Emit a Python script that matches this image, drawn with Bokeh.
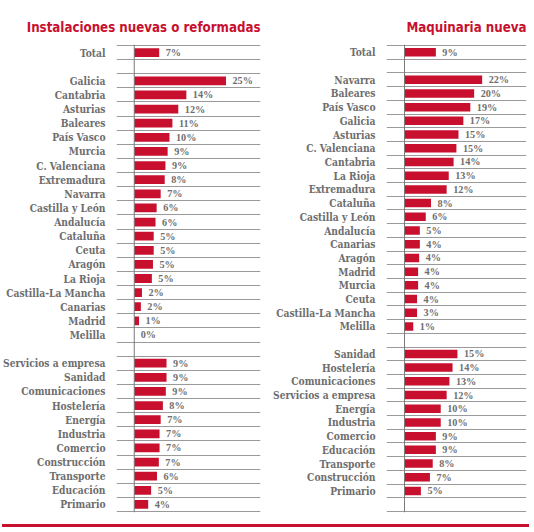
from bokeh.plotting import figure
from bokeh.models import FixedTicker, Range1d, Span, ColumnDataSource, LabelSet, Div
from bokeh.layouts import row, column
from bokeh.embed import file_html
from bokeh.resources import INLINE

# ---------------- data ----------------
title_left = "Instalaciones nuevas o reformadas"
title_right = "Maquinaria nueva"

total_left_pct = 7
total_left_bar = 6.8
regions_left = ["Galicia", "Cantabria", "Asturias", "Baleares", "País Vasco", "Murcia",
                "C. Valenciana", "Extremadura", "Navarra", "Castilla y León", "Andalucía",
                "Cataluña", "Ceuta", "Aragón", "La Rioja", "Castilla-La Mancha", "Canarias",
                "Madrid", "Melilla"]
regions_left_pct = [25, 14, 12, 11, 10, 9, 9, 8, 7, 6, 6, 5, 5, 5, 5, 2, 2, 1, 0]
regions_left_bar = [25.0, 14.2, 12.0, 10.4, 9.6, 9.1, 8.5, 8.3, 7.2, 6.1, 5.8, 5.3, 5.3,
                    5.1, 4.8, 2.1, 1.8, 1.3, 0.0]
sectors_left = ["Servicios a empresa", "Sanidad", "Comunicaciones", "Hostelería", "Energía",
                "Industria", "Comercio", "Construcción", "Transporte", "Educación", "Primario"]
sectors_left_pct = [9, 9, 9, 8, 7, 7, 7, 7, 6, 5, 4]
sectors_left_bar = [8.8, 8.8, 8.6, 7.8, 7.2, 6.9, 6.9, 6.7, 6.2, 4.6, 3.8]

total_right_pct = 9
total_right_bar = 9.0
regions_right = ["Navarra", "Baleares", "País Vasco", "Galicia", "Asturias", "C. Valenciana",
                 "Cantabria", "La Rioja", "Extremadura", "Cataluña", "Castilla y León",
                 "Andalucía", "Canarias", "Aragón", "Madrid", "Murcia", "Ceuta",
                 "Castilla-La Mancha", "Melilla"]
regions_right_pct = [22, 20, 19, 17, 15, 15, 14, 13, 12, 8, 6, 5, 4, 4, 4, 4, 4, 3, 1]
regions_right_bar = [22.3, 20.0, 18.9, 16.9, 15.5, 14.9, 14.1, 12.7, 12.1, 7.6, 6.1, 4.4,
                     4.4, 4.2, 3.9, 3.9, 3.6, 3.6, 2.5]
sectors_right = ["Sanidad", "Hostelería", "Comunicaciones", "Servicios a empresa", "Energía",
                 "Industria", "Comercio", "Educación", "Transporte", "Construcción", "Primario"]
sectors_right_pct = [15, 14, 13, 12, 10, 10, 9, 9, 8, 7, 5]
sectors_right_bar = [15.2, 13.8, 12.9, 12.1, 10.4, 10.4, 9.0, 9.0, 8.1, 7.3, 4.7]

# ---------------- style ----------------
RED = "#c8102e"
GREY_TXT = "#6e6e6e"
GRID = "#9a9a9a"
AXIS = "#7a7a7a"
LABEL_FONT = "DejaVu Serif Condensed"
TITLE_FONT = "DejaVu Sans Condensed"
FIG_H = 524


def panel(title, tot_pct, tot_bar, regs, regs_pct, regs_bar, secs, secs_pct, secs_bar,
          nrows, xstart, xend, width, bleft, bright):
    names = ["Total"] + regs + secs
    pcts = [tot_pct] + regs_pct + secs_pct
    bars = [tot_bar] + regs_bar + secs_bar
    ys = [0] + list(range(2, 2 + len(regs))) + list(range(3 + len(regs), 3 + len(regs) + len(secs)))
    pad = 0.07
    p = figure(width=width, height=FIG_H, output_backend="svg", toolbar_location=None,
               x_range=Range1d(xstart, xend),
               y_range=Range1d(nrows - 0.5 + pad, -0.5 - pad),
               min_border_left=bleft, min_border_right=bright,
               min_border_top=44, min_border_bottom=12)
    p.title.text = title
    p.title.align = "right"
    p.title.text_color = RED
    p.title.text_font = TITLE_FONT
    p.title.text_font_size = "13.2px"
    p.title.text_font_style = "bold"
    p.title.standoff = 20
    p.outline_line_color = None
    p.background_fill_color = "white"
    p.border_fill_color = "white"

    src = ColumnDataSource(dict(y=ys, bar=bars, txt=[f"{v}%" for v in pcts]))
    p.hbar(y="y", left=0, right="bar", height=0.62, source=src, fill_color=RED,
           line_color=None)
    p.add_layout(LabelSet(x="bar", y="y", text="txt", source=src, x_offset=6.5,
                          text_baseline="middle", text_align="left",
                          text_font=LABEL_FONT, text_font_style="bold",
                          text_font_size="10.2px", text_color=GREY_TXT))
    p.add_layout(Span(location=0, dimension="height", line_color=AXIS, line_width=1))

    p.xaxis.visible = False
    p.xgrid.visible = False
    p.ygrid.ticker = FixedTicker(ticks=[k - 0.5 for k in range(nrows + 1)])
    p.ygrid.grid_line_color = GRID
    p.ygrid.grid_line_width = 1

    ax = p.yaxis[0]
    ax.ticker = FixedTicker(ticks=ys)
    ax.major_label_overrides = {y: n for y, n in zip(ys, names)}
    ax.axis_line_color = None
    ax.major_tick_line_color = None
    ax.minor_tick_line_color = None
    ax.major_tick_out = 0
    ax.major_tick_in = 0
    ax.major_label_standoff = 11
    ax.major_label_text_font = LABEL_FONT
    ax.major_label_text_font_style = "bold"
    ax.major_label_text_font_size = "10.2px"
    ax.major_label_text_color = GREY_TXT
    return p


left = panel(title_left, total_left_pct, total_left_bar, regions_left, regions_left_pct,
             regions_left_bar, sectors_left, sectors_left_pct, sectors_left_bar,
             33, -4.84, 34.41, 270, 114, 10)
right = panel(title_right, total_right_pct, total_right_bar, regions_right, regions_right_pct,
              regions_right_bar, sectors_right, sectors_right_pct, sectors_right_bar,
              34, -5.18, 35.04, 264, 114, 8)

band = Div(text="", width=527, height=3, margin=(0, 0, 0, 2),
           styles={"background-color": RED})

layout = column(row(left, right), band)
open("out.html", "w").write(file_html(layout, INLINE))
